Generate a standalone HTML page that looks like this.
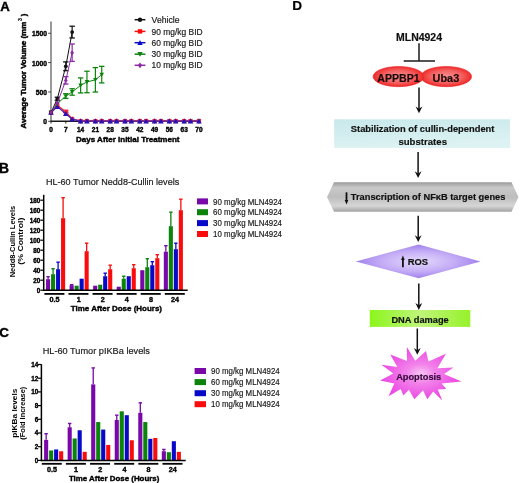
<!DOCTYPE html>
<html><head><meta charset="utf-8"><style>
html,body{margin:0;padding:0;background:#fff;}
svg{display:block;font-family:"Liberation Sans", sans-serif;filter:blur(0.35px);}
</style></head><body>
<svg width="520" height="483" viewBox="0 0 520 483" font-family='"Liberation Sans", sans-serif'>
<rect width="520" height="483" fill="#fff"/>
<text x="0.3" y="10.8" font-size="13.2" font-weight="bold" text-anchor="start" fill="#000" stroke="#000" stroke-width="0.38" >A</text>
<line x1="51.0" y1="21.4" x2="51.0" y2="121.8" stroke="#444" stroke-width="1.1"/>
<line x1="50.5" y1="121.3" x2="199.48" y2="121.3" stroke="#1a1a1a" stroke-width="1.6"/>
<line x1="48.2" y1="121.3" x2="51.0" y2="121.3" stroke="#444" stroke-width="1"/>
<text x="47.0" y="124.4" font-size="6.7" font-weight="bold" text-anchor="end" fill="#000" stroke="#000" stroke-width="0.38" >0</text>
<line x1="48.2" y1="91.95" x2="51.0" y2="91.95" stroke="#444" stroke-width="1"/>
<text x="47.0" y="95.05" font-size="6.7" font-weight="bold" text-anchor="end" fill="#000" stroke="#000" stroke-width="0.38" >500</text>
<line x1="48.2" y1="62.6" x2="51.0" y2="62.6" stroke="#444" stroke-width="1"/>
<text x="47.0" y="65.7" font-size="6.7" font-weight="bold" text-anchor="end" fill="#000" stroke="#000" stroke-width="0.38" >1000</text>
<line x1="48.2" y1="33.25" x2="51.0" y2="33.25" stroke="#444" stroke-width="1"/>
<text x="47.0" y="36.35" font-size="6.7" font-weight="bold" text-anchor="end" fill="#000" stroke="#000" stroke-width="0.38" >1500</text>
<line x1="51.0" y1="121.3" x2="51.0" y2="123.5" stroke="#222" stroke-width="1"/>
<text x="51.0" y="131.8" font-size="6.5" font-weight="bold" text-anchor="middle" fill="#000" stroke="#000" stroke-width="0.38" >0</text>
<line x1="65.8" y1="121.3" x2="65.8" y2="123.5" stroke="#222" stroke-width="1"/>
<text x="65.8" y="131.8" font-size="6.5" font-weight="bold" text-anchor="middle" fill="#000" stroke="#000" stroke-width="0.38" >7</text>
<line x1="80.6" y1="121.3" x2="80.6" y2="123.5" stroke="#222" stroke-width="1"/>
<text x="80.6" y="131.8" font-size="6.5" font-weight="bold" text-anchor="middle" fill="#000" stroke="#000" stroke-width="0.38" >14</text>
<line x1="95.39" y1="121.3" x2="95.39" y2="123.5" stroke="#222" stroke-width="1"/>
<text x="95.39" y="131.8" font-size="6.5" font-weight="bold" text-anchor="middle" fill="#000" stroke="#000" stroke-width="0.38" >21</text>
<line x1="110.19" y1="121.3" x2="110.19" y2="123.5" stroke="#222" stroke-width="1"/>
<text x="110.19" y="131.8" font-size="6.5" font-weight="bold" text-anchor="middle" fill="#000" stroke="#000" stroke-width="0.38" >28</text>
<line x1="124.99" y1="121.3" x2="124.99" y2="123.5" stroke="#222" stroke-width="1"/>
<text x="124.99" y="131.8" font-size="6.5" font-weight="bold" text-anchor="middle" fill="#000" stroke="#000" stroke-width="0.38" >35</text>
<line x1="139.79" y1="121.3" x2="139.79" y2="123.5" stroke="#222" stroke-width="1"/>
<text x="139.79" y="131.8" font-size="6.5" font-weight="bold" text-anchor="middle" fill="#000" stroke="#000" stroke-width="0.38" >42</text>
<line x1="154.59" y1="121.3" x2="154.59" y2="123.5" stroke="#222" stroke-width="1"/>
<text x="154.59" y="131.8" font-size="6.5" font-weight="bold" text-anchor="middle" fill="#000" stroke="#000" stroke-width="0.38" >49</text>
<line x1="169.38" y1="121.3" x2="169.38" y2="123.5" stroke="#222" stroke-width="1"/>
<text x="169.38" y="131.8" font-size="6.5" font-weight="bold" text-anchor="middle" fill="#000" stroke="#000" stroke-width="0.38" >56</text>
<line x1="184.18" y1="121.3" x2="184.18" y2="123.5" stroke="#222" stroke-width="1"/>
<text x="184.18" y="131.8" font-size="6.5" font-weight="bold" text-anchor="middle" fill="#000" stroke="#000" stroke-width="0.38" >63</text>
<line x1="198.98" y1="121.3" x2="198.98" y2="123.5" stroke="#222" stroke-width="1"/>
<text x="198.98" y="131.8" font-size="6.5" font-weight="bold" text-anchor="middle" fill="#000" stroke="#000" stroke-width="0.38" >70</text>
<text x="76" y="142.3" font-size="7.5" font-weight="bold" text-anchor="start" fill="#000" stroke="#000" stroke-width="0.38" textLength="103.5" lengthAdjust="spacingAndGlyphs" >Days After Initial Treatment</text>
<text transform="translate(26.2,128.4) rotate(-90)" font-size="7.6" font-weight="bold" stroke="#000" stroke-width="0.45" textLength="106.6" lengthAdjust="spacingAndGlyphs">Average Tumor Volume (mm</text>
<text transform="translate(21.6,21.0) rotate(-90)" font-size="5.2" font-weight="bold" stroke="#000" stroke-width="0.15">3</text>
<text transform="translate(26.2,16.2) rotate(-90)" font-size="7.6" font-weight="bold" stroke="#000" stroke-width="0.45">)</text>
<polyline points="51.00,112.50 57.34,105.45 65.80,111.61 72.14,118.95 80.60,121.01 86.94,121.01 95.39,121.01 101.74,121.01 110.19,121.01 116.53,121.01 124.99,121.01 131.33,121.01 139.79,121.01 146.13,121.01 154.59,121.01 160.93,121.01 169.38,121.01 175.73,121.01 184.18,121.01 190.52,121.01 198.98,121.01" fill="none" stroke="#ee2a3a" stroke-width="1.3"/>
<rect x="48.90" y="110.40" width="4.20" height="4.20" fill="#ee2a3a"/>
<rect x="55.24" y="103.35" width="4.20" height="4.20" fill="#ee2a3a"/>
<line x1="65.8" y1="110.73" x2="65.8" y2="112.5" stroke="#ee2a3a" stroke-width="1.2"/>
<line x1="63.1" y1="110.73" x2="68.5" y2="110.73" stroke="#ee2a3a" stroke-width="1.3"/>
<line x1="63.1" y1="112.5" x2="68.5" y2="112.5" stroke="#ee2a3a" stroke-width="1.3"/>
<rect x="63.70" y="109.51" width="4.20" height="4.20" fill="#ee2a3a"/>
<rect x="70.04" y="116.85" width="4.20" height="4.20" fill="#ee2a3a"/>
<rect x="78.50" y="118.91" width="4.20" height="4.20" fill="#ee2a3a"/>
<rect x="84.84" y="118.91" width="4.20" height="4.20" fill="#ee2a3a"/>
<rect x="93.29" y="118.91" width="4.20" height="4.20" fill="#ee2a3a"/>
<rect x="99.64" y="118.91" width="4.20" height="4.20" fill="#ee2a3a"/>
<rect x="108.09" y="118.91" width="4.20" height="4.20" fill="#ee2a3a"/>
<rect x="114.43" y="118.91" width="4.20" height="4.20" fill="#ee2a3a"/>
<rect x="122.89" y="118.91" width="4.20" height="4.20" fill="#ee2a3a"/>
<rect x="129.23" y="118.91" width="4.20" height="4.20" fill="#ee2a3a"/>
<rect x="137.69" y="118.91" width="4.20" height="4.20" fill="#ee2a3a"/>
<rect x="144.03" y="118.91" width="4.20" height="4.20" fill="#ee2a3a"/>
<rect x="152.49" y="118.91" width="4.20" height="4.20" fill="#ee2a3a"/>
<rect x="158.83" y="118.91" width="4.20" height="4.20" fill="#ee2a3a"/>
<rect x="167.28" y="118.91" width="4.20" height="4.20" fill="#ee2a3a"/>
<rect x="173.63" y="118.91" width="4.20" height="4.20" fill="#ee2a3a"/>
<rect x="182.08" y="118.91" width="4.20" height="4.20" fill="#ee2a3a"/>
<rect x="188.42" y="118.91" width="4.20" height="4.20" fill="#ee2a3a"/>
<rect x="196.88" y="118.91" width="4.20" height="4.20" fill="#ee2a3a"/>
<polyline points="51.00,112.50 57.34,106.62 65.80,113.67 72.14,119.25 80.60,121.12 86.94,121.12 95.39,121.12 101.74,121.12 110.19,121.12 116.53,121.12 124.99,121.12 131.33,121.12 139.79,121.12 146.13,121.12 154.59,121.12 160.93,121.12 169.38,121.12 175.73,121.12 184.18,121.12 190.52,121.12 198.98,121.12" fill="none" stroke="#4a22b0" stroke-width="1.3"/>
<path d="M51.00,109.73 L53.76,114.80 L48.24,114.80Z" fill="#2a12b4"/>
<path d="M57.34,103.86 L60.10,108.92 L54.58,108.92Z" fill="#2a12b4"/>
<path d="M65.80,110.91 L68.56,115.97 L63.04,115.97Z" fill="#2a12b4"/>
<path d="M72.14,116.49 L74.90,121.55 L69.38,121.55Z" fill="#2a12b4"/>
<path d="M80.60,118.36 L83.36,123.42 L77.84,123.42Z" fill="#2a12b4"/>
<path d="M86.94,118.36 L89.70,123.42 L84.18,123.42Z" fill="#2a12b4"/>
<path d="M95.39,118.36 L98.15,123.42 L92.63,123.42Z" fill="#2a12b4"/>
<path d="M101.74,118.36 L104.50,123.42 L98.98,123.42Z" fill="#2a12b4"/>
<path d="M110.19,118.36 L112.95,123.42 L107.43,123.42Z" fill="#2a12b4"/>
<path d="M116.53,118.36 L119.29,123.42 L113.77,123.42Z" fill="#2a12b4"/>
<path d="M124.99,118.36 L127.75,123.42 L122.23,123.42Z" fill="#2a12b4"/>
<path d="M131.33,118.36 L134.09,123.42 L128.57,123.42Z" fill="#2a12b4"/>
<path d="M139.79,118.36 L142.55,123.42 L137.03,123.42Z" fill="#2a12b4"/>
<path d="M146.13,118.36 L148.89,123.42 L143.37,123.42Z" fill="#2a12b4"/>
<path d="M154.59,118.36 L157.35,123.42 L151.83,123.42Z" fill="#2a12b4"/>
<path d="M160.93,118.36 L163.69,123.42 L158.17,123.42Z" fill="#2a12b4"/>
<path d="M169.38,118.36 L172.14,123.42 L166.62,123.42Z" fill="#2a12b4"/>
<path d="M175.73,118.36 L178.49,123.42 L172.97,123.42Z" fill="#2a12b4"/>
<path d="M184.18,118.36 L186.94,123.42 L181.42,123.42Z" fill="#2a12b4"/>
<path d="M190.52,118.36 L193.28,123.42 L187.76,123.42Z" fill="#2a12b4"/>
<path d="M198.98,118.36 L201.74,123.42 L196.22,123.42Z" fill="#2a12b4"/>
<polyline points="51.00,112.50 57.34,103.69 65.80,96.06 72.14,91.95 80.60,85.43 86.94,81.97 95.39,79.80 101.74,74.63" fill="none" stroke="#0c840c" stroke-width="1.0"/>
<path d="M51.00,114.78 L53.28,110.59 L48.72,110.59Z" fill="#0c840c"/>
<path d="M57.34,105.97 L59.62,101.79 L55.06,101.79Z" fill="#0c840c"/>
<line x1="65.8" y1="93.71" x2="65.8" y2="98.41" stroke="#0c840c" stroke-width="1.2"/>
<line x1="63.1" y1="93.71" x2="68.5" y2="93.71" stroke="#0c840c" stroke-width="1.3"/>
<line x1="63.1" y1="98.41" x2="68.5" y2="98.41" stroke="#0c840c" stroke-width="1.3"/>
<path d="M65.80,98.34 L68.08,94.16 L63.52,94.16Z" fill="#0c840c"/>
<line x1="72.14" y1="88.72" x2="72.14" y2="95.18" stroke="#0c840c" stroke-width="1.2"/>
<line x1="69.44" y1="88.72" x2="74.84" y2="88.72" stroke="#0c840c" stroke-width="1.3"/>
<line x1="69.44" y1="95.18" x2="74.84" y2="95.18" stroke="#0c840c" stroke-width="1.3"/>
<path d="M72.14,94.23 L74.42,90.05 L69.86,90.05Z" fill="#0c840c"/>
<line x1="80.6" y1="77.92" x2="80.6" y2="92.95" stroke="#0c840c" stroke-width="1.2"/>
<line x1="77.9" y1="77.92" x2="83.3" y2="77.92" stroke="#0c840c" stroke-width="1.3"/>
<line x1="77.9" y1="92.95" x2="83.3" y2="92.95" stroke="#0c840c" stroke-width="1.3"/>
<path d="M80.60,87.71 L82.88,83.53 L78.32,83.53Z" fill="#0c840c"/>
<line x1="86.94" y1="71.23" x2="86.94" y2="92.71" stroke="#0c840c" stroke-width="1.2"/>
<line x1="84.24" y1="71.23" x2="89.64" y2="71.23" stroke="#0c840c" stroke-width="1.3"/>
<line x1="84.24" y1="92.71" x2="89.64" y2="92.71" stroke="#0c840c" stroke-width="1.3"/>
<path d="M86.94,84.25 L89.22,80.07 L84.66,80.07Z" fill="#0c840c"/>
<line x1="95.39" y1="67.59" x2="95.39" y2="92.01" stroke="#0c840c" stroke-width="1.2"/>
<line x1="92.69" y1="67.59" x2="98.09" y2="67.59" stroke="#0c840c" stroke-width="1.3"/>
<line x1="92.69" y1="92.01" x2="98.09" y2="92.01" stroke="#0c840c" stroke-width="1.3"/>
<path d="M95.39,82.08 L97.67,77.90 L93.11,77.90Z" fill="#0c840c"/>
<line x1="101.74" y1="66.36" x2="101.74" y2="82.91" stroke="#0c840c" stroke-width="1.2"/>
<line x1="99.04" y1="66.36" x2="104.44" y2="66.36" stroke="#0c840c" stroke-width="1.3"/>
<line x1="99.04" y1="82.91" x2="104.44" y2="82.91" stroke="#0c840c" stroke-width="1.3"/>
<path d="M101.74,76.91 L104.02,72.73 L99.46,72.73Z" fill="#0c840c"/>
<polyline points="51.00,112.50 57.34,98.70 65.80,66.30 72.14,32.08" fill="none" stroke="#111" stroke-width="1.0"/>
<circle cx="51.00" cy="112.50" r="1.9" fill="#111"/>
<line x1="57.34" y1="97.23" x2="57.34" y2="100.17" stroke="#111" stroke-width="1.2"/>
<line x1="54.64" y1="97.23" x2="60.04" y2="97.23" stroke="#111" stroke-width="1.3"/>
<line x1="54.64" y1="100.17" x2="60.04" y2="100.17" stroke="#111" stroke-width="1.3"/>
<circle cx="57.34" cy="98.70" r="1.9" fill="#111"/>
<line x1="65.8" y1="61.9" x2="65.8" y2="70.7" stroke="#111" stroke-width="1.2"/>
<line x1="63.1" y1="61.9" x2="68.5" y2="61.9" stroke="#111" stroke-width="1.3"/>
<line x1="63.1" y1="70.7" x2="68.5" y2="70.7" stroke="#111" stroke-width="1.3"/>
<circle cx="65.80" cy="66.30" r="1.9" fill="#111"/>
<line x1="72.14" y1="26.21" x2="72.14" y2="37.95" stroke="#111" stroke-width="1.2"/>
<line x1="69.44" y1="26.21" x2="74.84" y2="26.21" stroke="#111" stroke-width="1.3"/>
<line x1="69.44" y1="37.95" x2="74.84" y2="37.95" stroke="#111" stroke-width="1.3"/>
<circle cx="72.14" cy="32.08" r="1.9" fill="#111"/>
<polyline points="51.00,112.50 57.34,103.10 65.80,80.39 72.14,52.68" fill="none" stroke="#8e2aa8" stroke-width="1.0"/>
<path d="M51.00,110.03 L52.90,112.50 L51.00,114.97 L49.10,112.50Z" fill="#8e2aa8"/>
<path d="M57.34,100.63 L59.24,103.10 L57.34,105.57 L55.44,103.10Z" fill="#8e2aa8"/>
<line x1="65.8" y1="76.69" x2="65.8" y2="84.08" stroke="#8e2aa8" stroke-width="1.2"/>
<line x1="63.1" y1="76.69" x2="68.5" y2="76.69" stroke="#8e2aa8" stroke-width="1.3"/>
<line x1="63.1" y1="84.08" x2="68.5" y2="84.08" stroke="#8e2aa8" stroke-width="1.3"/>
<path d="M65.80,77.92 L67.70,80.39 L65.80,82.86 L63.90,80.39Z" fill="#8e2aa8"/>
<line x1="72.14" y1="43.99" x2="72.14" y2="61.37" stroke="#8e2aa8" stroke-width="1.2"/>
<line x1="69.44" y1="43.99" x2="74.84" y2="43.99" stroke="#8e2aa8" stroke-width="1.3"/>
<line x1="69.44" y1="61.37" x2="74.84" y2="61.37" stroke="#8e2aa8" stroke-width="1.3"/>
<path d="M72.14,50.21 L74.04,52.68 L72.14,55.15 L70.24,52.68Z" fill="#8e2aa8"/>
<line x1="134.6" y1="19.7" x2="145.4" y2="19.7" stroke="#111" stroke-width="1.5"/>
<circle cx="140.00" cy="19.70" r="2.2" fill="#111"/>
<text x="151.6" y="22.8" font-size="8.6" font-weight="normal" text-anchor="start" fill="#1a1a1a" stroke="#1a1a1a" stroke-width="0.18" textLength="28.0" lengthAdjust="spacingAndGlyphs" >Vehicle</text>
<line x1="134.6" y1="31.4" x2="145.4" y2="31.4" stroke="#fa0c0c" stroke-width="1.5"/>
<rect x="137.80" y="29.20" width="4.40" height="4.40" fill="#fa0c0c"/>
<text x="151.6" y="34.5" font-size="8.6" font-weight="normal" text-anchor="start" fill="#1a1a1a" stroke="#1a1a1a" stroke-width="0.18" textLength="51.0" lengthAdjust="spacingAndGlyphs" >90 mg/kg BID</text>
<line x1="134.6" y1="42.7" x2="145.4" y2="42.7" stroke="#0808c8" stroke-width="1.5"/>
<path d="M140.00,40.06 L142.64,44.90 L137.36,44.90Z" fill="#0808c8"/>
<text x="151.6" y="45.8" font-size="8.6" font-weight="normal" text-anchor="start" fill="#1a1a1a" stroke="#1a1a1a" stroke-width="0.18" textLength="51.0" lengthAdjust="spacingAndGlyphs" >60 mg/kg BID</text>
<line x1="134.6" y1="54.2" x2="145.4" y2="54.2" stroke="#0c840c" stroke-width="1.5"/>
<path d="M140.00,56.84 L142.64,52.00 L137.36,52.00Z" fill="#0c840c"/>
<text x="151.6" y="57.3" font-size="8.6" font-weight="normal" text-anchor="start" fill="#1a1a1a" stroke="#1a1a1a" stroke-width="0.18" textLength="51.0" lengthAdjust="spacingAndGlyphs" >30 mg/kg BID</text>
<line x1="134.6" y1="65.3" x2="145.4" y2="65.3" stroke="#8e2aa8" stroke-width="1.5"/>
<path d="M140.00,62.44 L142.20,65.30 L140.00,68.16 L137.80,65.30Z" fill="#8e2aa8"/>
<text x="151.6" y="68.4" font-size="8.6" font-weight="normal" text-anchor="start" fill="#1a1a1a" stroke="#1a1a1a" stroke-width="0.18" textLength="51.0" lengthAdjust="spacingAndGlyphs" >10 mg/kg BID</text>
<text x="-0.9" y="172.9" font-size="13.8" font-weight="bold" text-anchor="start" fill="#000" stroke="#000" stroke-width="0.38" >B</text>
<text x="46" y="184.5" font-size="9.7" font-weight="normal" text-anchor="start" fill="#1a1a1a" stroke="#1a1a1a" stroke-width="0.18" textLength="133.2" lengthAdjust="spacingAndGlyphs" >HL-60 Tumor Nedd8-Cullin levels</text>
<line x1="43.7" y1="194.8" x2="43.7" y2="290.9" stroke="#000" stroke-width="1.5"/>
<line x1="40.3" y1="290.2" x2="43.7" y2="290.2" stroke="#000" stroke-width="1.2"/>
<text x="40.3" y="292.55" font-size="6.6" font-weight="bold" text-anchor="end" fill="#000" stroke="#000" stroke-width="0.38" textLength="3.5" lengthAdjust="spacingAndGlyphs" >0</text>
<line x1="40.3" y1="280.2" x2="43.7" y2="280.2" stroke="#000" stroke-width="1.2"/>
<text x="40.3" y="282.55" font-size="6.6" font-weight="bold" text-anchor="end" fill="#000" stroke="#000" stroke-width="0.38" textLength="7.1" lengthAdjust="spacingAndGlyphs" >20</text>
<line x1="40.3" y1="270.2" x2="43.7" y2="270.2" stroke="#000" stroke-width="1.2"/>
<text x="40.3" y="272.55" font-size="6.6" font-weight="bold" text-anchor="end" fill="#000" stroke="#000" stroke-width="0.38" textLength="7.1" lengthAdjust="spacingAndGlyphs" >40</text>
<line x1="40.3" y1="260.2" x2="43.7" y2="260.2" stroke="#000" stroke-width="1.2"/>
<text x="40.3" y="262.55" font-size="6.6" font-weight="bold" text-anchor="end" fill="#000" stroke="#000" stroke-width="0.38" textLength="7.1" lengthAdjust="spacingAndGlyphs" >60</text>
<line x1="40.3" y1="250.2" x2="43.7" y2="250.2" stroke="#000" stroke-width="1.2"/>
<text x="40.3" y="252.55" font-size="6.6" font-weight="bold" text-anchor="end" fill="#000" stroke="#000" stroke-width="0.38" textLength="7.1" lengthAdjust="spacingAndGlyphs" >80</text>
<line x1="40.3" y1="240.2" x2="43.7" y2="240.2" stroke="#000" stroke-width="1.2"/>
<text x="40.3" y="242.55" font-size="6.6" font-weight="bold" text-anchor="end" fill="#000" stroke="#000" stroke-width="0.38" textLength="10.6" lengthAdjust="spacingAndGlyphs" >100</text>
<line x1="40.3" y1="230.2" x2="43.7" y2="230.2" stroke="#000" stroke-width="1.2"/>
<text x="40.3" y="232.55" font-size="6.6" font-weight="bold" text-anchor="end" fill="#000" stroke="#000" stroke-width="0.38" textLength="10.6" lengthAdjust="spacingAndGlyphs" >120</text>
<line x1="40.3" y1="220.2" x2="43.7" y2="220.2" stroke="#000" stroke-width="1.2"/>
<text x="40.3" y="222.55" font-size="6.6" font-weight="bold" text-anchor="end" fill="#000" stroke="#000" stroke-width="0.38" textLength="10.6" lengthAdjust="spacingAndGlyphs" >140</text>
<line x1="40.3" y1="210.2" x2="43.7" y2="210.2" stroke="#000" stroke-width="1.2"/>
<text x="40.3" y="212.55" font-size="6.6" font-weight="bold" text-anchor="end" fill="#000" stroke="#000" stroke-width="0.38" textLength="10.6" lengthAdjust="spacingAndGlyphs" >160</text>
<line x1="40.3" y1="200.2" x2="43.7" y2="200.2" stroke="#000" stroke-width="1.2"/>
<text x="40.3" y="202.55" font-size="6.6" font-weight="bold" text-anchor="end" fill="#000" stroke="#000" stroke-width="0.38" textLength="10.6" lengthAdjust="spacingAndGlyphs" >180</text>
<rect x="46.05" y="279.20" width="4.10" height="11.00" fill="#7808a8"/>
<line x1="48.1" y1="279.2" x2="48.1" y2="276.7" stroke="#7808a8" stroke-width="1.3"/>
<line x1="46.4" y1="276.7" x2="49.8" y2="276.7" stroke="#7808a8" stroke-width="1.4"/>
<rect x="51.05" y="274.20" width="4.10" height="16.00" fill="#0c840c"/>
<line x1="53.1" y1="274.2" x2="53.1" y2="268.7" stroke="#0c840c" stroke-width="1.3"/>
<line x1="51.4" y1="268.7" x2="54.8" y2="268.7" stroke="#0c840c" stroke-width="1.4"/>
<rect x="56.05" y="269.20" width="4.10" height="21.00" fill="#0808c8"/>
<line x1="58.1" y1="269.2" x2="58.1" y2="262.2" stroke="#0808c8" stroke-width="1.3"/>
<line x1="56.4" y1="262.2" x2="59.8" y2="262.2" stroke="#0808c8" stroke-width="1.4"/>
<rect x="61.05" y="218.20" width="4.10" height="72.00" fill="#fa0c0c"/>
<line x1="63.1" y1="218.2" x2="63.1" y2="197.7" stroke="#fa0c0c" stroke-width="1.3"/>
<line x1="61.4" y1="197.7" x2="64.8" y2="197.7" stroke="#fa0c0c" stroke-width="1.4"/>
<line x1="44.4" y1="293.9" x2="64.4" y2="293.9" stroke="#000" stroke-width="1.8"/>
<text x="54.6" y="301.6" font-size="7.2" font-weight="bold" text-anchor="middle" fill="#000" stroke="#000" stroke-width="0.38" >0.5</text>
<rect x="69.60" y="285.20" width="4.10" height="5.00" fill="#7808a8"/>
<line x1="71.65" y1="285.2" x2="71.65" y2="284.7" stroke="#7808a8" stroke-width="1.3"/>
<line x1="69.95" y1="284.7" x2="73.35" y2="284.7" stroke="#7808a8" stroke-width="1.4"/>
<rect x="74.60" y="285.70" width="4.10" height="4.50" fill="#0c840c"/>
<rect x="79.60" y="278.70" width="4.10" height="11.50" fill="#0808c8"/>
<rect x="84.60" y="251.20" width="4.10" height="39.00" fill="#fa0c0c"/>
<line x1="86.65" y1="251.2" x2="86.65" y2="243.2" stroke="#fa0c0c" stroke-width="1.3"/>
<line x1="84.95" y1="243.2" x2="88.35" y2="243.2" stroke="#fa0c0c" stroke-width="1.4"/>
<line x1="68.48" y1="293.9" x2="88.48" y2="293.9" stroke="#000" stroke-width="1.8"/>
<text x="78.68" y="301.6" font-size="7.2" font-weight="bold" text-anchor="middle" fill="#000" stroke="#000" stroke-width="0.38" >1</text>
<rect x="93.15" y="285.70" width="4.10" height="4.50" fill="#7808a8"/>
<rect x="98.15" y="284.70" width="4.10" height="5.50" fill="#0c840c"/>
<rect x="103.15" y="276.20" width="4.10" height="14.00" fill="#0808c8"/>
<line x1="105.2" y1="276.2" x2="105.2" y2="273.2" stroke="#0808c8" stroke-width="1.3"/>
<line x1="103.5" y1="273.2" x2="106.9" y2="273.2" stroke="#0808c8" stroke-width="1.4"/>
<rect x="108.15" y="269.20" width="4.10" height="21.00" fill="#fa0c0c"/>
<line x1="110.2" y1="269.2" x2="110.2" y2="265.2" stroke="#fa0c0c" stroke-width="1.3"/>
<line x1="108.5" y1="265.2" x2="111.9" y2="265.2" stroke="#fa0c0c" stroke-width="1.4"/>
<line x1="92.56" y1="293.9" x2="112.56" y2="293.9" stroke="#000" stroke-width="1.8"/>
<text x="102.76" y="301.6" font-size="7.2" font-weight="bold" text-anchor="middle" fill="#000" stroke="#000" stroke-width="0.38" >2</text>
<rect x="116.70" y="286.70" width="4.10" height="3.50" fill="#7808a8"/>
<rect x="121.70" y="278.70" width="4.10" height="11.50" fill="#0c840c"/>
<line x1="123.75" y1="278.7" x2="123.75" y2="276.2" stroke="#0c840c" stroke-width="1.3"/>
<line x1="122.05" y1="276.2" x2="125.45" y2="276.2" stroke="#0c840c" stroke-width="1.4"/>
<rect x="126.70" y="276.20" width="4.10" height="14.00" fill="#0808c8"/>
<rect x="131.70" y="268.20" width="4.10" height="22.00" fill="#fa0c0c"/>
<line x1="133.75" y1="268.2" x2="133.75" y2="264.7" stroke="#fa0c0c" stroke-width="1.3"/>
<line x1="132.05" y1="264.7" x2="135.45" y2="264.7" stroke="#fa0c0c" stroke-width="1.4"/>
<line x1="116.64" y1="293.9" x2="136.64" y2="293.9" stroke="#000" stroke-width="1.8"/>
<text x="126.84" y="301.6" font-size="7.2" font-weight="bold" text-anchor="middle" fill="#000" stroke="#000" stroke-width="0.38" >4</text>
<rect x="140.25" y="270.20" width="4.10" height="20.00" fill="#7808a8"/>
<rect x="145.25" y="267.20" width="4.10" height="23.00" fill="#0c840c"/>
<line x1="147.3" y1="267.2" x2="147.3" y2="258.7" stroke="#0c840c" stroke-width="1.3"/>
<line x1="145.6" y1="258.7" x2="149.0" y2="258.7" stroke="#0c840c" stroke-width="1.4"/>
<rect x="150.25" y="265.20" width="4.10" height="25.00" fill="#0808c8"/>
<line x1="152.3" y1="265.2" x2="152.3" y2="261.7" stroke="#0808c8" stroke-width="1.3"/>
<line x1="150.6" y1="261.7" x2="154.0" y2="261.7" stroke="#0808c8" stroke-width="1.4"/>
<rect x="155.25" y="258.20" width="4.10" height="32.00" fill="#fa0c0c"/>
<line x1="157.3" y1="258.2" x2="157.3" y2="254.7" stroke="#fa0c0c" stroke-width="1.3"/>
<line x1="155.6" y1="254.7" x2="159.0" y2="254.7" stroke="#fa0c0c" stroke-width="1.4"/>
<line x1="140.72" y1="293.9" x2="160.72" y2="293.9" stroke="#000" stroke-width="1.8"/>
<text x="150.92" y="301.6" font-size="7.2" font-weight="bold" text-anchor="middle" fill="#000" stroke="#000" stroke-width="0.38" >8</text>
<rect x="163.80" y="251.70" width="4.10" height="38.50" fill="#7808a8"/>
<line x1="165.85" y1="251.7" x2="165.85" y2="245.7" stroke="#7808a8" stroke-width="1.3"/>
<line x1="164.15" y1="245.7" x2="167.55" y2="245.7" stroke="#7808a8" stroke-width="1.4"/>
<rect x="168.80" y="226.20" width="4.10" height="64.00" fill="#0c840c"/>
<line x1="170.85" y1="226.2" x2="170.85" y2="212.2" stroke="#0c840c" stroke-width="1.3"/>
<line x1="169.15" y1="212.2" x2="172.55" y2="212.2" stroke="#0c840c" stroke-width="1.4"/>
<rect x="173.80" y="249.20" width="4.10" height="41.00" fill="#0808c8"/>
<line x1="175.85" y1="249.2" x2="175.85" y2="243.2" stroke="#0808c8" stroke-width="1.3"/>
<line x1="174.15" y1="243.2" x2="177.55" y2="243.2" stroke="#0808c8" stroke-width="1.4"/>
<rect x="178.80" y="210.20" width="4.10" height="80.00" fill="#fa0c0c"/>
<line x1="180.85" y1="210.2" x2="180.85" y2="199.2" stroke="#fa0c0c" stroke-width="1.3"/>
<line x1="179.15" y1="199.2" x2="182.55" y2="199.2" stroke="#fa0c0c" stroke-width="1.4"/>
<line x1="164.8" y1="293.9" x2="184.8" y2="293.9" stroke="#000" stroke-width="1.8"/>
<text x="175.0" y="301.6" font-size="7.2" font-weight="bold" text-anchor="middle" fill="#000" stroke="#000" stroke-width="0.38" >24</text>
<line x1="43.0" y1="290.2" x2="187.7" y2="290.2" stroke="#000" stroke-width="1.5"/>
<text x="70.8" y="310.6" font-size="7.8" font-weight="bold" text-anchor="start" fill="#000" stroke="#000" stroke-width="0.38" textLength="91.2" lengthAdjust="spacingAndGlyphs" >Time After Dose (Hours)</text>
<text transform="translate(14.8,241.6) rotate(-90)" font-size="7.5" font-weight="bold" text-anchor="middle" textLength="71.5" lengthAdjust="spacingAndGlyphs">Nedd8-Cullin Levels</text>
<text transform="translate(23.3,241.2) rotate(-90)" font-size="7.5" font-weight="bold" text-anchor="middle" textLength="47" lengthAdjust="spacingAndGlyphs">(% Control)</text>
<rect x="197.00" y="198.40" width="11.00" height="6.00" fill="#7808a8"/>
<text x="213.1" y="204.6" font-size="8.7" font-weight="normal" text-anchor="start" fill="#1a1a1a" stroke="#1a1a1a" stroke-width="0.18" textLength="68.9" lengthAdjust="spacingAndGlyphs" >90 mg/kg MLN4924</text>
<rect x="197.00" y="209.20" width="11.00" height="6.00" fill="#0c840c"/>
<text x="213.1" y="215.4" font-size="8.7" font-weight="normal" text-anchor="start" fill="#1a1a1a" stroke="#1a1a1a" stroke-width="0.18" textLength="68.9" lengthAdjust="spacingAndGlyphs" >60 mg/kg MLN4924</text>
<rect x="197.00" y="220.10" width="11.00" height="6.00" fill="#0808c8"/>
<text x="213.1" y="226.3" font-size="8.7" font-weight="normal" text-anchor="start" fill="#1a1a1a" stroke="#1a1a1a" stroke-width="0.18" textLength="68.9" lengthAdjust="spacingAndGlyphs" >30 mg/kg MLN4924</text>
<rect x="197.00" y="231.00" width="11.00" height="6.00" fill="#fa0c0c"/>
<text x="213.1" y="237.2" font-size="8.7" font-weight="normal" text-anchor="start" fill="#1a1a1a" stroke="#1a1a1a" stroke-width="0.18" textLength="68.9" lengthAdjust="spacingAndGlyphs" >10 mg/kg MLN4924</text>
<text x="-0.8" y="337.0" font-size="13.4" font-weight="bold" text-anchor="start" fill="#000" stroke="#000" stroke-width="0.38" >C</text>
<text x="42.7" y="354.4" font-size="9.7" font-weight="normal" text-anchor="start" fill="#1a1a1a" stroke="#1a1a1a" stroke-width="0.18" textLength="107.2" lengthAdjust="spacingAndGlyphs" >HL-60 Tumor pIKBa levels</text>
<line x1="41.4" y1="364.3" x2="41.4" y2="461.1" stroke="#000" stroke-width="1.5"/>
<line x1="38.0" y1="460.4" x2="41.4" y2="460.4" stroke="#000" stroke-width="1.2"/>
<text x="38.3" y="462.75" font-size="6.6" font-weight="bold" text-anchor="end" fill="#000" stroke="#000" stroke-width="0.38" textLength="3.5" lengthAdjust="spacingAndGlyphs" >0</text>
<line x1="38.0" y1="446.7" x2="41.4" y2="446.7" stroke="#000" stroke-width="1.2"/>
<text x="38.3" y="449.05" font-size="6.6" font-weight="bold" text-anchor="end" fill="#000" stroke="#000" stroke-width="0.38" textLength="3.5" lengthAdjust="spacingAndGlyphs" >2</text>
<line x1="38.0" y1="433.0" x2="41.4" y2="433.0" stroke="#000" stroke-width="1.2"/>
<text x="38.3" y="435.35" font-size="6.6" font-weight="bold" text-anchor="end" fill="#000" stroke="#000" stroke-width="0.38" textLength="3.5" lengthAdjust="spacingAndGlyphs" >4</text>
<line x1="38.0" y1="419.3" x2="41.4" y2="419.3" stroke="#000" stroke-width="1.2"/>
<text x="38.3" y="421.65" font-size="6.6" font-weight="bold" text-anchor="end" fill="#000" stroke="#000" stroke-width="0.38" textLength="3.5" lengthAdjust="spacingAndGlyphs" >6</text>
<line x1="38.0" y1="405.6" x2="41.4" y2="405.6" stroke="#000" stroke-width="1.2"/>
<text x="38.3" y="407.95" font-size="6.6" font-weight="bold" text-anchor="end" fill="#000" stroke="#000" stroke-width="0.38" textLength="3.5" lengthAdjust="spacingAndGlyphs" >8</text>
<line x1="38.0" y1="391.9" x2="41.4" y2="391.9" stroke="#000" stroke-width="1.2"/>
<text x="38.3" y="394.25" font-size="6.6" font-weight="bold" text-anchor="end" fill="#000" stroke="#000" stroke-width="0.38" textLength="7.1" lengthAdjust="spacingAndGlyphs" >10</text>
<line x1="38.0" y1="378.2" x2="41.4" y2="378.2" stroke="#000" stroke-width="1.2"/>
<text x="38.3" y="380.55" font-size="6.6" font-weight="bold" text-anchor="end" fill="#000" stroke="#000" stroke-width="0.38" textLength="7.1" lengthAdjust="spacingAndGlyphs" >12</text>
<line x1="38.0" y1="364.5" x2="41.4" y2="364.5" stroke="#000" stroke-width="1.2"/>
<text x="38.3" y="366.85" font-size="6.6" font-weight="bold" text-anchor="end" fill="#000" stroke="#000" stroke-width="0.38" textLength="7.1" lengthAdjust="spacingAndGlyphs" >14</text>
<rect x="44.10" y="439.85" width="4.10" height="20.55" fill="#7808a8"/>
<line x1="46.15" y1="439.85" x2="46.15" y2="433.69" stroke="#7808a8" stroke-width="1.3"/>
<line x1="44.45" y1="433.69" x2="47.85" y2="433.69" stroke="#7808a8" stroke-width="1.4"/>
<rect x="49.10" y="450.47" width="4.10" height="9.93" fill="#0c840c"/>
<rect x="54.10" y="449.44" width="4.10" height="10.96" fill="#0808c8"/>
<rect x="59.10" y="451.29" width="4.10" height="9.11" fill="#fa0c0c"/>
<line x1="41.75" y1="463.8" x2="61.75" y2="463.8" stroke="#000" stroke-width="1.8"/>
<text x="51.95" y="471.6" font-size="7.2" font-weight="bold" text-anchor="middle" fill="#000" stroke="#000" stroke-width="0.38" >0.5</text>
<rect x="67.64" y="427.25" width="4.10" height="33.15" fill="#7808a8"/>
<line x1="69.69" y1="427.25" x2="69.69" y2="423.48" stroke="#7808a8" stroke-width="1.3"/>
<line x1="67.99" y1="423.48" x2="71.39" y2="423.48" stroke="#7808a8" stroke-width="1.4"/>
<rect x="72.64" y="438.48" width="4.10" height="21.92" fill="#0c840c"/>
<rect x="77.64" y="430.26" width="4.10" height="30.14" fill="#0808c8"/>
<rect x="82.64" y="451.84" width="4.10" height="8.56" fill="#fa0c0c"/>
<line x1="65.9" y1="463.8" x2="85.9" y2="463.8" stroke="#000" stroke-width="1.8"/>
<text x="76.1" y="471.6" font-size="7.2" font-weight="bold" text-anchor="middle" fill="#000" stroke="#000" stroke-width="0.38" >1</text>
<rect x="91.18" y="384.37" width="4.10" height="76.03" fill="#7808a8"/>
<line x1="93.23" y1="384.37" x2="93.23" y2="367.92" stroke="#7808a8" stroke-width="1.3"/>
<line x1="91.53" y1="367.92" x2="94.93" y2="367.92" stroke="#7808a8" stroke-width="1.4"/>
<rect x="96.18" y="422.04" width="4.10" height="38.36" fill="#0c840c"/>
<rect x="101.18" y="429.57" width="4.10" height="30.82" fill="#0808c8"/>
<rect x="106.18" y="444.92" width="4.10" height="15.48" fill="#fa0c0c"/>
<line x1="90.05" y1="463.8" x2="110.05" y2="463.8" stroke="#000" stroke-width="1.8"/>
<text x="100.25" y="471.6" font-size="7.2" font-weight="bold" text-anchor="middle" fill="#000" stroke="#000" stroke-width="0.38" >2</text>
<rect x="114.72" y="419.98" width="4.10" height="40.41" fill="#7808a8"/>
<line x1="116.77" y1="419.98" x2="116.77" y2="415.19" stroke="#7808a8" stroke-width="1.3"/>
<line x1="115.07" y1="415.19" x2="118.47" y2="415.19" stroke="#7808a8" stroke-width="1.4"/>
<rect x="119.72" y="411.35" width="4.10" height="49.05" fill="#0c840c"/>
<rect x="124.72" y="415.19" width="4.10" height="45.21" fill="#0808c8"/>
<rect x="129.72" y="440.26" width="4.10" height="20.14" fill="#fa0c0c"/>
<line x1="114.2" y1="463.8" x2="134.2" y2="463.8" stroke="#000" stroke-width="1.8"/>
<text x="124.4" y="471.6" font-size="7.2" font-weight="bold" text-anchor="middle" fill="#000" stroke="#000" stroke-width="0.38" >4</text>
<rect x="138.26" y="412.79" width="4.10" height="47.61" fill="#7808a8"/>
<line x1="140.31" y1="412.79" x2="140.31" y2="402.86" stroke="#7808a8" stroke-width="1.3"/>
<line x1="138.61" y1="402.86" x2="142.01" y2="402.86" stroke="#7808a8" stroke-width="1.4"/>
<rect x="143.26" y="422.04" width="4.10" height="38.36" fill="#0c840c"/>
<rect x="148.26" y="438.82" width="4.10" height="21.58" fill="#0808c8"/>
<rect x="153.26" y="438.00" width="4.10" height="22.40" fill="#fa0c0c"/>
<line x1="138.35" y1="463.8" x2="158.35" y2="463.8" stroke="#000" stroke-width="1.8"/>
<text x="148.55" y="471.6" font-size="7.2" font-weight="bold" text-anchor="middle" fill="#000" stroke="#000" stroke-width="0.38" >8</text>
<rect x="161.80" y="451.22" width="4.10" height="9.18" fill="#7808a8"/>
<line x1="163.85" y1="451.22" x2="163.85" y2="449.44" stroke="#7808a8" stroke-width="1.3"/>
<line x1="162.15" y1="449.44" x2="165.55" y2="449.44" stroke="#7808a8" stroke-width="1.4"/>
<rect x="166.80" y="452.18" width="4.10" height="8.22" fill="#0c840c"/>
<rect x="171.80" y="441.22" width="4.10" height="19.18" fill="#0808c8"/>
<rect x="176.80" y="451.84" width="4.10" height="8.56" fill="#fa0c0c"/>
<line x1="162.5" y1="463.8" x2="182.5" y2="463.8" stroke="#000" stroke-width="1.8"/>
<text x="172.7" y="471.6" font-size="7.2" font-weight="bold" text-anchor="middle" fill="#000" stroke="#000" stroke-width="0.38" >24</text>
<line x1="40.7" y1="460.4" x2="185.7" y2="460.4" stroke="#000" stroke-width="1.5"/>
<text x="68.9" y="481.0" font-size="7.8" font-weight="bold" text-anchor="start" fill="#000" stroke="#000" stroke-width="0.38" textLength="90.5" lengthAdjust="spacingAndGlyphs" >Time After Dose (Hours)</text>
<text transform="translate(17.1,413.2) rotate(-90)" font-size="7.5" font-weight="bold" text-anchor="middle" textLength="49" lengthAdjust="spacingAndGlyphs">pIKBa levels</text>
<text transform="translate(25.1,413.2) rotate(-90)" font-size="7.5" font-weight="bold" text-anchor="middle" textLength="53" lengthAdjust="spacingAndGlyphs">(Fold Increase)</text>
<rect x="194.60" y="368.00" width="11.40" height="6.00" fill="#7808a8"/>
<text x="211.1" y="374.2" font-size="8.7" font-weight="normal" text-anchor="start" fill="#1a1a1a" stroke="#1a1a1a" stroke-width="0.18" textLength="68.6" lengthAdjust="spacingAndGlyphs" >90 mg/kg MLN4924</text>
<rect x="194.60" y="379.10" width="11.40" height="6.00" fill="#0c840c"/>
<text x="211.1" y="385.3" font-size="8.7" font-weight="normal" text-anchor="start" fill="#1a1a1a" stroke="#1a1a1a" stroke-width="0.18" textLength="68.6" lengthAdjust="spacingAndGlyphs" >60 mg/kg MLN4924</text>
<rect x="194.60" y="390.20" width="11.40" height="6.00" fill="#0808c8"/>
<text x="211.1" y="396.4" font-size="8.7" font-weight="normal" text-anchor="start" fill="#1a1a1a" stroke="#1a1a1a" stroke-width="0.18" textLength="68.6" lengthAdjust="spacingAndGlyphs" >30 mg/kg MLN4924</text>
<rect x="194.60" y="401.20" width="11.40" height="6.00" fill="#fa0c0c"/>
<text x="211.1" y="407.4" font-size="8.7" font-weight="normal" text-anchor="start" fill="#1a1a1a" stroke="#1a1a1a" stroke-width="0.18" textLength="68.6" lengthAdjust="spacingAndGlyphs" >10 mg/kg MLN4924</text>
<text x="292.2" y="9.9" font-size="13.6" font-weight="bold" text-anchor="start" fill="#000" stroke="#000" stroke-width="0.18" >D</text>
<text x="396" y="40.8" font-size="10" font-weight="bold" text-anchor="start" fill="#111" stroke="#111" stroke-width="0.18" textLength="46" lengthAdjust="spacingAndGlyphs" >MLN4924</text>
<line x1="419" y1="43.3" x2="419" y2="61" stroke="#1a1a1a" stroke-width="1.5"/>
<line x1="403.7" y1="61" x2="435" y2="61" stroke="#1a1a1a" stroke-width="1.5"/>
<defs>
<radialGradient id="rg" cx="50%" cy="50%" r="52%"><stop offset="0" stop-color="#f99090"/><stop offset="0.6" stop-color="#f46060"/><stop offset="1" stop-color="#ee2424"/></radialGradient>
<linearGradient id="bx" x1="0" y1="0" x2="0.3" y2="1"><stop offset="0" stop-color="#c8e8ea"/><stop offset="1" stop-color="#ddf2f3"/></linearGradient>
<linearGradient id="hx" x1="0" y1="0" x2="0" y2="1"><stop offset="0" stop-color="#9a9a9a"/><stop offset="0.18" stop-color="#c9c9c9"/><stop offset="0.5" stop-color="#bdbdbd"/><stop offset="0.8" stop-color="#d6d6d6"/><stop offset="1" stop-color="#a2a2a2"/></linearGradient>
<radialGradient id="dm" cx="50%" cy="50%" r="50%"><stop offset="0" stop-color="#e4dafc"/><stop offset="0.6" stop-color="#c4acf6"/><stop offset="1" stop-color="#a080ec"/></radialGradient>
<linearGradient id="gb" x1="0" y1="0" x2="1" y2="0"><stop offset="0" stop-color="#8cf51c"/><stop offset="0.5" stop-color="#bff57a"/><stop offset="1" stop-color="#96f22a"/></linearGradient>
<radialGradient id="st" cx="50%" cy="50%" r="50%"><stop offset="0" stop-color="#f8c6f4"/><stop offset="0.35" stop-color="#f284ea"/><stop offset="1" stop-color="#ec46e4"/></radialGradient>
</defs>
<ellipse cx="446.2" cy="76.55" rx="25.4" ry="10.1" fill="url(#rg)" stroke="#ec2020" stroke-width="0.6"/>
<ellipse cx="398.5" cy="76.55" rx="25.4" ry="10.1" fill="url(#rg)" stroke="#ec2020" stroke-width="0.6"/>
<text x="377.3" y="81.6" font-size="10.3" font-weight="bold" text-anchor="start" fill="#1a0a0a" stroke="#1a0a0a" stroke-width="0.18" textLength="42.4" lengthAdjust="spacingAndGlyphs" >APPBP1</text>
<text x="432.6" y="81.6" font-size="10.3" font-weight="bold" text-anchor="start" fill="#1a0a0a" stroke="#1a0a0a" stroke-width="0.18" textLength="26.6" lengthAdjust="spacingAndGlyphs" >Uba3</text>
<line x1="419" y1="87.5" x2="419" y2="109.3" stroke="#111" stroke-width="1.5"/>
<path d="M415.60,106.50 L419.00,113.30 L422.40,106.50 L419.00,108.70Z" fill="#111"/>
<rect x="334.20" y="119.30" width="175.80" height="28.60" fill="url(#bx)"/>
<text x="350.8" y="131.8" font-size="9.5" font-weight="bold" text-anchor="start" fill="#111" stroke="#111" stroke-width="0.18" textLength="143.6" lengthAdjust="spacingAndGlyphs" >Stabilization of cullin-dependent</text>
<text x="398.4" y="144.6" font-size="9.5" font-weight="bold" text-anchor="start" fill="#111" stroke="#111" stroke-width="0.18" textLength="48.6" lengthAdjust="spacingAndGlyphs" >substrates</text>
<line x1="418.1" y1="152" x2="418.1" y2="174.0" stroke="#111" stroke-width="1.5"/>
<path d="M414.70,171.20 L418.10,178.00 L421.50,171.20 L418.10,173.40Z" fill="#111"/>
<path d="M327,197 L334,182.3 L511.5,182.3 L518.5,197 L511.5,211.8 L334,211.8Z" fill="url(#hx)"/>
<line x1="346.5" y1="192.3" x2="346.5" y2="201" stroke="#111" stroke-width="1.8"/>
<path d="M344.7,200.0 L346.5,204.6 L348.3,200.0Z" fill="#111"/>
<text x="350.8" y="199.8" font-size="9.7" font-weight="bold" text-anchor="start" fill="#111" stroke="#111" stroke-width="0.18" textLength="154.6" lengthAdjust="spacingAndGlyphs" >Transcription of NF&#954;B target genes</text>
<line x1="418.2" y1="215.7" x2="418.2" y2="238.1" stroke="#111" stroke-width="1.5"/>
<path d="M414.80,235.30 L418.20,242.10 L421.60,235.30 L418.20,237.50Z" fill="#111"/>
<path d="M355.8,261.4 L418.7,244.5 L480.6,261.4 L418.7,278.3Z" fill="url(#dm)"/>
<line x1="402.9" y1="258.8" x2="402.9" y2="267.3" stroke="#111" stroke-width="1.8"/>
<path d="M401.1,260.0 L402.9,255.6 L404.7,260.0Z" fill="#111"/>
<text x="407.7" y="264.7" font-size="9.8" font-weight="bold" text-anchor="start" fill="#111" stroke="#111" stroke-width="0.18" textLength="20.4" lengthAdjust="spacingAndGlyphs" >ROS</text>
<line x1="418.8" y1="283.6" x2="418.8" y2="305.9" stroke="#111" stroke-width="1.5"/>
<path d="M415.40,303.10 L418.80,309.90 L422.20,303.10 L418.80,305.30Z" fill="#111"/>
<rect x="369.80" y="310.00" width="100.50" height="16.90" fill="url(#gb)"/>
<text x="391.4" y="322.8" font-size="9.6" font-weight="bold" text-anchor="start" fill="#111" stroke="#111" stroke-width="0.18" textLength="57.4" lengthAdjust="spacingAndGlyphs" >DNA damage</text>
<polygon points="406.8,347.0 415.28,360.72 426.0,351.1 428.48,361.6 445.9,353.7 437.46,368.2 453.4,367.5 444.06,373.92 461.4,381.5 441.68,383.6 446.3,389.0 437.81,389.5 442.3,400.5 433.14,391.52 427.3,399.2 423.02,390.29 414.4,399.2 408.86,389.85 403.4,395.4 400.67,389.06 388.6,396.2 394.34,383.51 380.1,380.6 393.28,373.48 381.4,364.7 397.33,366.97 390.3,354.6 407.01,360.98" fill="url(#st)"/>
<line x1="417.3" y1="328.5" x2="417.3" y2="350.8" stroke="#111" stroke-width="1.5"/>
<path d="M413.90,348.00 L417.30,354.80 L420.70,348.00 L417.30,350.20Z" fill="#111"/>
<text x="396.2" y="379.9" font-size="9.9" font-weight="bold" text-anchor="start" fill="#300838" stroke="#300838" stroke-width="0.18" textLength="45.0" lengthAdjust="spacingAndGlyphs" >Apoptosis</text>
</svg>
</body></html>
